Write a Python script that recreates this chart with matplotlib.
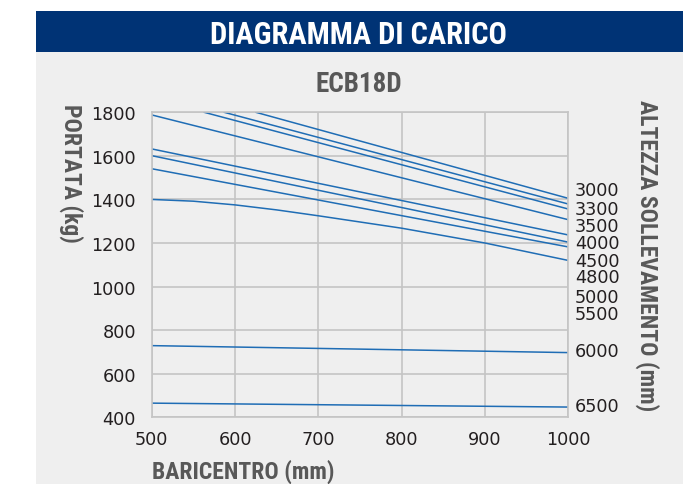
import matplotlib
matplotlib.use("Agg")
import matplotlib.pyplot as plt
from matplotlib.patches import Rectangle

# ---- data ----
x_ticks = [500, 600, 700, 800, 900, 1000]
y_ticks = [400, 600, 800, 1000, 1200, 1400, 1600, 1800]

heights = ["3000", "3300", "3500", "4000", "4500", "4800", "5000", "5500", "6000", "6500"]
curve_x = {
    "3000": [625, 1000],
    "3300": [587, 1000],
    "3500": [563, 1000],
    "4000": [500, 1000],
    "4500": [500, 1000],
    "4800": [500, 1000],
    "5000": [500, 1000],
    "5500": [500, 550, 600, 650, 700, 800, 900, 1000],
    "6000": [500, 1000],
    "6500": [500, 1000],
}
curve_y = {
    "3000": [1800, 1405],
    "3300": [1800, 1379],
    "3500": [1800, 1356],
    "4000": [1788, 1307],
    "4500": [1632, 1237],
    "4800": [1601, 1204],
    "5000": [1541, 1182],
    "5500": [1400, 1392, 1375, 1352, 1325, 1268, 1200, 1120],
    "6000": [729, 697],
    "6500": [465, 447],
}
label_y = [1445, 1356, 1280, 1200, 1119, 1043, 951, 872, 706, 451]

BLUE = "#1f6db5"
NAVY = "#003375"
PANEL = "#efefef"
GREY = "#585858"
DARK = "#231f20"
COND = ["Roboto Condensed", "Archivo Narrow", "DejaVu Sans"]
REG = ["DejaVu Sans"]

W, H = 697, 485
fig = plt.figure(figsize=(W / 100, H / 100), dpi=100)
fig.patch.set_facecolor("white")

def fy(py):
    return 1 - py / H

# panel background and header bar
fig.add_artist(Rectangle((36 / W, 0), (683 - 36) / W, fy(53),
                         transform=fig.transFigure, facecolor=PANEL, edgecolor="none", zorder=0))
fig.add_artist(Rectangle((36 / W, fy(53)), (683 - 36) / W, 41 / H,
                         transform=fig.transFigure, facecolor=NAVY, edgecolor="none", zorder=0))
fig.text(358.5 / W, fy(44), "DIAGRAMMA DI CARICO", color="white", fontsize=22,
         fontweight="bold", family=COND, ha="center", va="baseline")
fig.text(359 / W, fy(91.5), "ECB18D", color=GREY, fontsize=19.5,
         fontweight="bold", family=COND, ha="center", va="baseline")

ax = fig.add_axes([151.7 / W, fy(418.3), (568.3 - 151.7) / W, (418.3 - 113.3) / H])
ax.set_facecolor(PANEL)
ax.set_xlim(500, 1000)
ax.set_ylim(400, 1800)
ax.set_xticks(x_ticks)
ax.set_yticks(y_ticks)
ax.grid(True, color="#c4c4c4", linewidth=1.2)
ax.set_axisbelow(True)
for s in ax.spines.values():
    s.set_color("#c4c4c4")
    s.set_linewidth(1.2)
ax.tick_params(axis="y", length=0, pad=11.3, labelsize=12.7, labelcolor=DARK)
ax.tick_params(axis="x", length=0, pad=9, labelsize=12.7, labelcolor=DARK)
for lab in ax.get_xticklabels() + ax.get_yticklabels():
    lab.set_family(REG)

for h in heights:
    ax.plot(curve_x[h], curve_y[h], color=BLUE, linewidth=1.1, clip_on=True)

for h, yv in zip(heights, label_y):
    ax.text(1.016, yv, h, transform=ax.get_yaxis_transform(), fontsize=12.7,
            color=DARK, family=REG, ha="left", va="center")

fig.text(152 / W, fy(479), "BARICENTRO (mm)", color=GREY, fontsize=17,
         fontweight="bold", family=COND, ha="left", va="baseline")
fig.text(71.7 / W, fy(173.5), "PORTATA (kg)", color=GREY, fontsize=17,
         fontweight="bold", family=COND, ha="center", va="center", rotation=-90)
fig.text(647.3 / W, fy(255.5), "ALTEZZA SOLLEVAMENTO (mm)", color=GREY, fontsize=17,
         fontweight="bold", family=COND, ha="center", va="center", rotation=-90)

fig.savefig("out.png", dpi=100, facecolor="white")
